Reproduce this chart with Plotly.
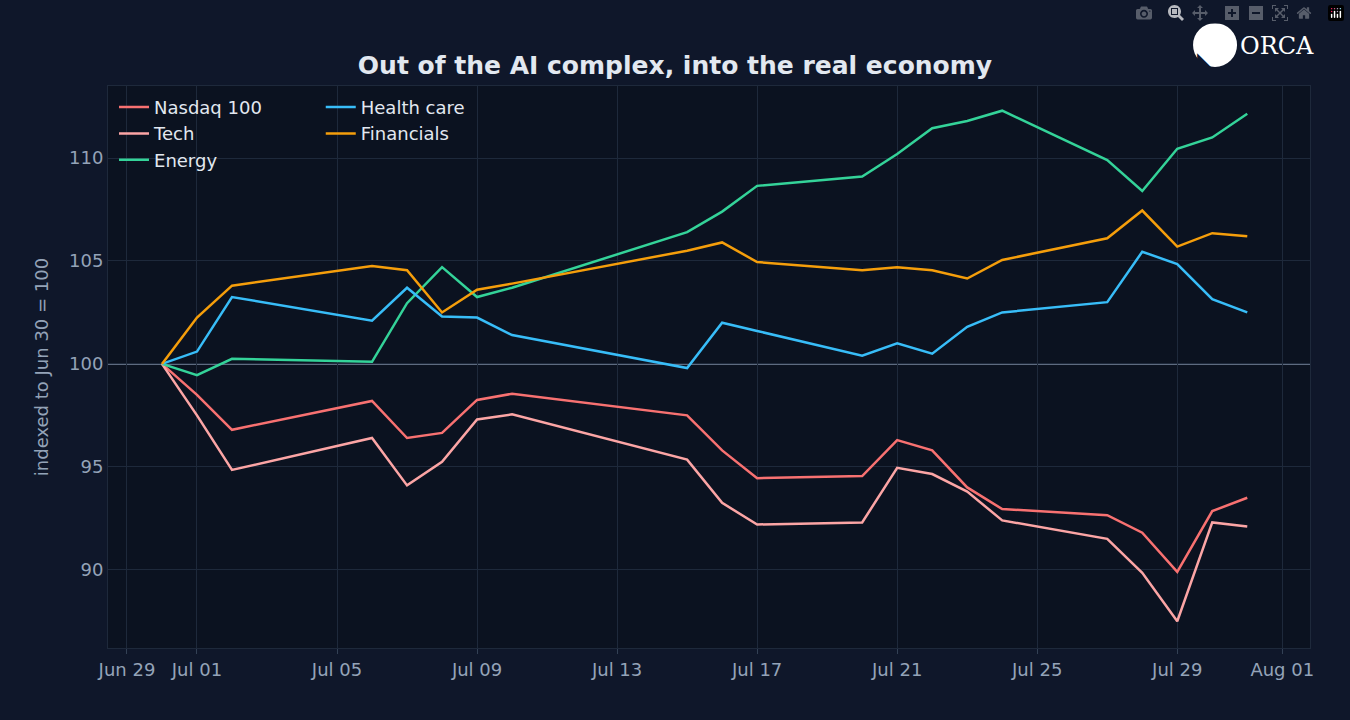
import plotly.graph_objects as go

dates = ["2026-06-30","2026-07-01","2026-07-02","2026-07-06","2026-07-07","2026-07-08","2026-07-09","2026-07-10",
         "2026-07-15","2026-07-16","2026-07-17","2026-07-20","2026-07-21","2026-07-22","2026-07-23","2026-07-24",
         "2026-07-27","2026-07-28","2026-07-29","2026-07-30","2026-07-31"]
nasdaq = [100,98.5,96.8,98.2,96.4,96.65,98.25,98.55,97.5,95.8,94.45,94.55,96.3,95.8,94.0,92.95,92.65,91.8,89.9,92.85,93.5]
tech = [100,97.5,94.85,96.4,94.1,95.25,97.3,97.55,95.35,93.25,92.2,92.3,94.95,94.65,93.8,92.4,91.5,89.85,87.5,92.3,92.1]
energy = [100,99.45,100.25,100.1,102.95,104.7,103.25,103.7,106.4,107.4,108.65,109.1,110.2,111.45,111.8,112.3,109.9,108.4,110.45,111.0,112.15]
health = [100,100.6,103.25,102.1,103.7,102.3,102.25,101.4,99.8,102.0,101.6,100.4,101.0,100.5,101.8,102.5,103.0,105.45,104.85,103.15,102.5]
financials = [100,102.25,103.8,104.75,104.55,102.5,103.6,103.9,105.5,105.9,104.95,104.55,104.7,104.55,104.15,105.05,106.1,107.45,105.7,106.35,106.2]

series = [("Nasdaq 100", nasdaq, "#f87171", "legend"),
          ("Tech", tech, "#fca5a5", "legend"),
          ("Energy", energy, "#34d399", "legend"),
          ("Health care", health, "#38bdf8", "legend2"),
          ("Financials", financials, "#f59e0b", "legend2")]

fig = go.Figure()
fig.add_hline(y=100, line=dict(color="#7b8aa0", width=1.5), layer="below")
for name, vals, col, lg in series:
    fig.add_trace(go.Scatter(x=dates, y=vals, name=name, mode="lines",
                             line=dict(color=col, width=2.5), legend=lg))

tickvals = ["2026-06-29","2026-07-01","2026-07-05","2026-07-09","2026-07-13","2026-07-17","2026-07-21","2026-07-25","2026-07-29","2026-08-01"]
ticktext = ["Jun 29","Jul 01","Jul 05","Jul 09","Jul 13","Jul 17","Jul 21","Jul 25","Jul 29","Aug 01"]

font = "DejaVu Sans"
fig.update_layout(
    width=1350, height=720,
    paper_bgcolor="#0f172a", plot_bgcolor="#0b1220",
    font=dict(family=font, color="#94a3b8", size=18),
    margin=dict(l=108, r=40, t=86, b=72),
    title=dict(text="<b>Out of the AI complex, into the real economy</b>", x=0.5, xanchor="center",
               y=0.91, yanchor="middle", font=dict(size=25, color="#e2e8f0")),
    xaxis=dict(type="date", range=["2026-06-28 11:00", "2026-08-01 19:00"], tickvals=tickvals, ticktext=ticktext,
               gridcolor="#1e293b", showline=True, linecolor="#1e293b", mirror=True, ticks="outside",
               tickcolor="#334155", zeroline=False),
    yaxis=dict(range=[86.2, 113.5], tickvals=[90,95,100,105,110], gridcolor="#1e293b",
               showline=True, linecolor="#1e293b", mirror=True, zeroline=False,
               title=dict(text="indexed to Jun 30 = 100", font=dict(size=18, color="#94a3b8"))),
    legend=dict(x=0.005, y=0.995, xanchor="left", yanchor="top", bgcolor="rgba(0,0,0,0)",
                font=dict(size=18, color="#e2e8f0"), tracegroupgap=0),
    legend2=dict(x=0.177, y=0.995, xanchor="left", yanchor="top", bgcolor="rgba(0,0,0,0)",
                 font=dict(size=18, color="#e2e8f0"), tracegroupgap=0),
    showlegend=True,
)
fig.add_shape(type="circle", xref="paper", yref="paper", xsizemode="pixel", ysizemode="pixel",
              xanchor=0.921, yanchor=1.073, x0=-22, x1=22, y0=-22, y1=22,
              fillcolor="#ffffff", line=dict(width=0))
fig.add_annotation(xref="paper", yref="paper", x=0.921, y=1.073, text="<b>◣</b>", showarrow=False,
                   font=dict(size=20, color="#0f172a"))
fig.add_annotation(xref="paper", yref="paper", x=1.005, y=1.071, xanchor="right", yanchor="middle",
                   text="ORCA", showarrow=False,
                   font=dict(family="DejaVu Serif", size=24, color="#ffffff"))
fig.write_html("out.html", post_script="document.body.style.margin='0';")
